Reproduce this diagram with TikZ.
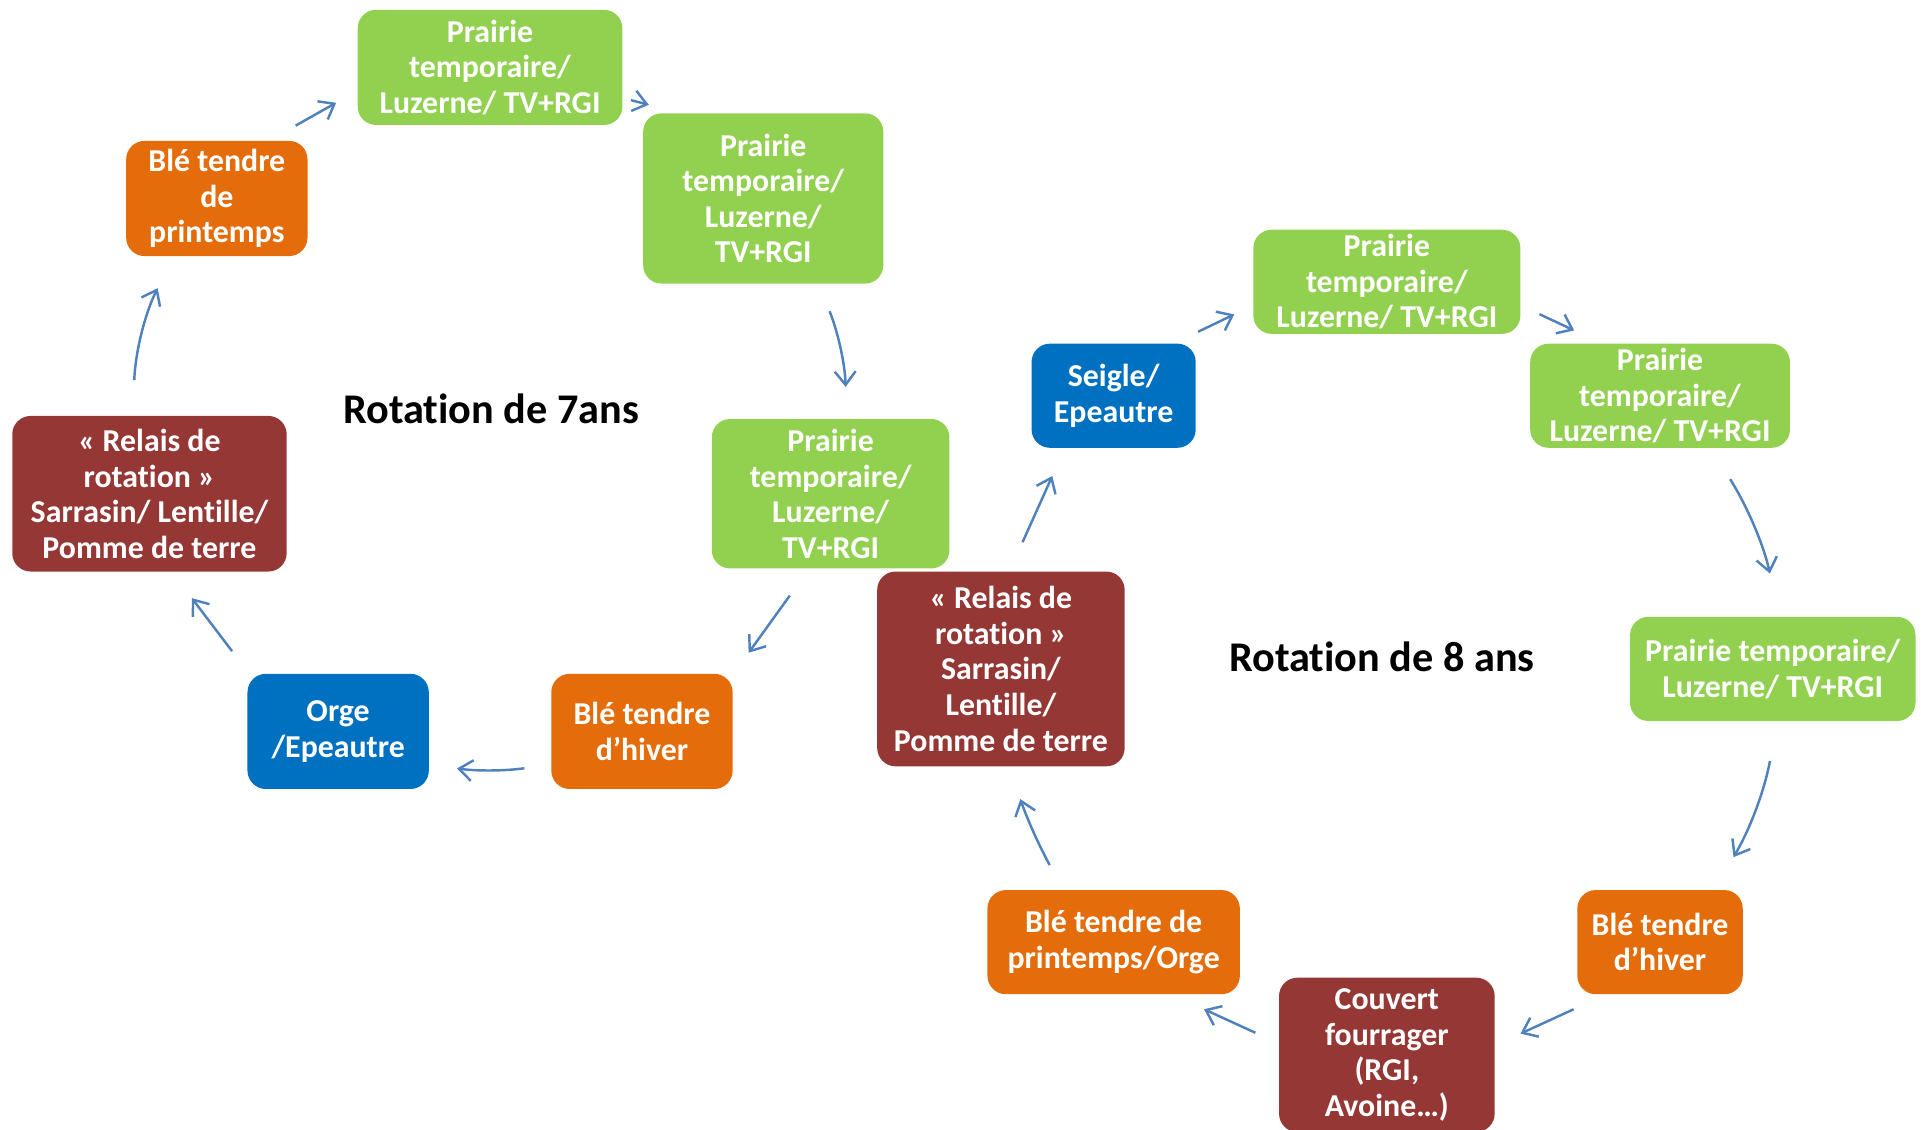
\documentclass[tikz,border=0pt]{standalone}
\usepackage{fontspec}
\setmainfont{Carlito}[Ligatures=NoCommon]
\usetikzlibrary{arrows.meta}

\definecolor{prairiegreen}{HTML}{92D050}
\definecolor{bleorange}{HTML}{E46C0A}
\definecolor{cerealblue}{HTML}{0070C0}
\definecolor{relaisred}{HTML}{953735}
\definecolor{arrowblue}{HTML}{4F81BD}

\tikzstyle{box} = [rectangle, rounded corners=15pt, text=white, align=center, inner sep=0pt, font=\fontsize{26}{29}\selectfont\bfseries]
\tikzstyle{prairie} = [box, fill=prairiegreen]
\tikzstyle{ble} = [box, fill=bleorange]
\tikzstyle{cereale} = [box, fill=cerealblue]
\tikzstyle{relais} = [box, fill=relaisred]
\tikzstyle{titre} = [font=\fontsize{34.5}{40}\selectfont\bfseries]
\tikzstyle{arrow} = [draw=arrowblue, line width=2pt, -{Straight Barb[length=11pt,width=17pt]}]

\begin{document}
\begin{tikzpicture}[x=1pt,y=-1pt]
        \clip (0,0) rectangle (1568,922);

        % rotation de 7 ans
        \node (p1) [prairie, minimum width=216pt, minimum height=94pt] at (400,55) {Prairie\\temporaire/\\Luzerne/ TV+RGI};
        \node (p2) [prairie, minimum width=196pt, minimum height=139pt] at (623,162) {Prairie\\temporaire/\\Luzerne/\\TV+RGI};
        \node (p3) [prairie, minimum width=194pt, minimum height=122pt] at (678,403) {Prairie\\temporaire/\\Luzerne/\\TV+RGI};
        \node (bh1) [ble, minimum width=148pt, minimum height=94pt] at (524,597) {Blé tendre\\d’hiver};
        \node (oe) [cereale, minimum width=148pt, minimum height=94pt] at (276,597) {Orge\\/Epeautre};
        \node (rr1) [relais, minimum width=224pt, minimum height=127pt] at (122,403) {« Relais de\\rotation »\\Sarrasin/ Lentille/\\Pomme de terre};
        \node (bp1) [ble, minimum width=148pt, minimum height=94pt] at (177,162) {Blé tendre\\de\\printemps};
        \node (t7) [titre] at (401,334) {Rotation de 7ans};

        \draw [arrow, shorten <=25pt, shorten >=20pt] (bp1.48) -- (p1.190);
        \draw [arrow, shorten <=7pt, shorten >=27pt] (p1.347) -- (p2.134);
        \draw [arrow, shorten <=24pt, shorten >=26pt] (p2.303) to[bend left=10] (p3.78);
        \draw [arrow, shorten <=27pt, shorten >=22pt] (p3.254) -- (bh1.32);
        \draw [arrow, shorten <=22pt, shorten >=23pt] (bh1.200) to[bend left=8] (oe.340);
        \draw [arrow, shorten <=23pt, shorten >=27pt] (oe.147) -- (rr1.286);
        \draw [arrow, shorten <=29pt, shorten >=29pt] (rr1.102) to[bend left=12] (bp1.233);

        % rotation de 8 ans
        \node (se) [cereale, minimum width=134pt, minimum height=85pt] at (909,323) {Seigle/\\Epeautre};
        \node (p4) [prairie, minimum width=218pt, minimum height=85pt] at (1132,230) {Prairie\\temporaire/\\Luzerne/ TV+RGI};
        \node (p5) [prairie, minimum width=212pt, minimum height=85pt] at (1355,323) {Prairie\\temporaire/\\Luzerne/ TV+RGI};
        \node (p6) [prairie, minimum width=233pt, minimum height=85pt] at (1447,546) {Prairie temporaire/\\Luzerne/ TV+RGI};
        \node (bh2) [ble, minimum width=135pt, minimum height=85pt] at (1355,769) {Blé tendre\\d’hiver};
        \node (cf) [relais, minimum width=176pt, minimum height=126pt] at (1132,861) {Couvert\\fourrager\\(RGI,\\Avoine…)};
        \node (bp2) [ble, minimum width=206pt, minimum height=85pt] at (909,769) {Blé tendre de\\printemps/Orge};
        \node (rr2) [relais, minimum width=202pt, minimum height=159pt] at (817,546) {« Relais de\\rotation »\\Sarrasin/\\Lentille/\\Pomme de terre};
        \node (t8) [titre] at (1128,536) {Rotation de 8 ans};

        \draw [arrow, shorten <=26pt, shorten >=25pt] (rr2.85) -- (se.227);
        \draw [arrow, shorten <=22pt, shorten >=17pt] (se.41) -- (p4.190);
        \draw [arrow, shorten <=17pt, shorten >=25pt] (p4.350) -- (p5.138);
        \draw [arrow, shorten <=30pt, shorten >=36pt] (p5.314) to[bend left=10] (p6.83);
        \draw [arrow, shorten <=33pt, shorten >=31pt] (p6.275) to[bend left=10] (bh2.44);
        \draw [arrow, shorten <=29pt, shorten >=23pt] (bh2.224) -- (cf.5);
        \draw [arrow, shorten <=21pt, shorten >=29pt] (cf.174) -- (bp2.318);
        \draw [arrow, shorten <=23pt, shorten >=28pt] (bp2.134) to[bend left=5] (rr2.275);
    \end{tikzpicture}
\end{document}
